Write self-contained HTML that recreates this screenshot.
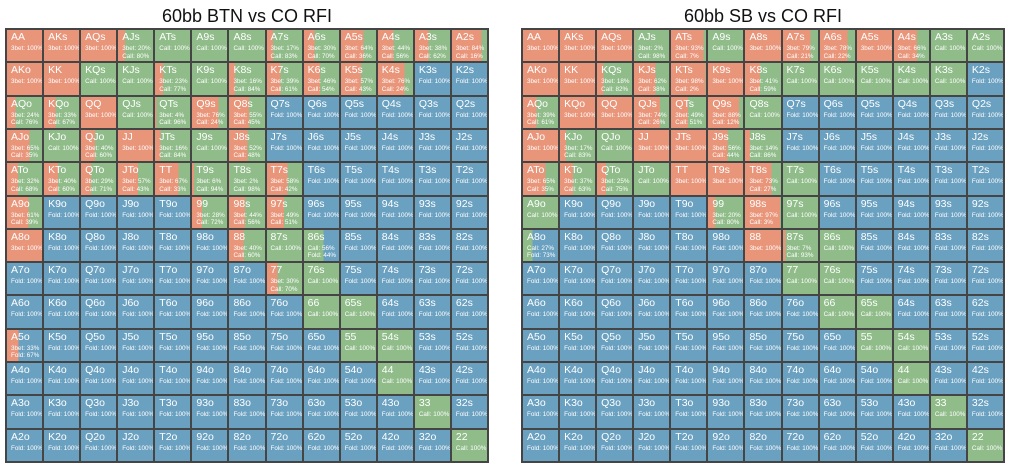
<!DOCTYPE html>
<html><head><meta charset="utf-8"><style>
body{margin:0;width:1011px;height:470px;background:#fff;position:relative;overflow:hidden;font-family:"Liberation Sans",sans-serif}
.t{position:absolute;top:6px;font-size:18px;color:#111;width:490px;text-align:center}
.g{position:absolute;top:28px;width:480px;height:431px;background:#454545;padding:2px;display:grid;grid-template-columns:repeat(13,1fr);grid-template-rows:repeat(13,1fr);gap:2px}
.g i{font-style:normal;display:block;color:#fff;font-size:6.3px;line-height:7.5px;padding:1px 0 0 4px;overflow:hidden;white-space:nowrap;
--r:0%;--c:0%;background:linear-gradient(90deg,#e9957a 0 var(--r),#8fbc89 var(--r) var(--c),#6aa0c0 var(--c))}
.g i b{display:block;font-weight:normal;font-size:10.5px;line-height:13px;margin-bottom:1px}
.g i.R{--r:100%;--c:100%}.g i.C{--c:100%}
</style></head><body>
<div class="t" style="left:2px">60bb BTN vs CO RFI</div>
<div class="t" style="left:518px">60bb SB vs CO RFI</div>
<div class="g" style="left:5px">
<i class="R"><b>AA</b>3bet: 100%</i><i class="R"><b>AKs</b>3bet: 100%</i><i class="R"><b>AQs</b>3bet: 100%</i><i style="--r:20%;--c:100%"><b>AJs</b>3bet: 20%<br>Call: 80%</i><i class="C"><b>ATs</b>Call: 100%</i><i class="C"><b>A9s</b>Call: 100%</i><i class="C"><b>A8s</b>Call: 100%</i><i style="--r:17%;--c:100%"><b>A7s</b>3bet: 17%<br>Call: 83%</i><i style="--r:30%;--c:100%"><b>A6s</b>3bet: 30%<br>Call: 70%</i><i style="--r:64%;--c:100%"><b>A5s</b>3bet: 64%<br>Call: 36%</i><i style="--r:44%;--c:100%"><b>A4s</b>3bet: 44%<br>Call: 56%</i><i style="--r:38%;--c:100%"><b>A3s</b>3bet: 38%<br>Call: 62%</i><i style="--r:84%;--c:100%"><b>A2s</b>3bet: 84%<br>Call: 16%</i>
<i class="R"><b>AKo</b>3bet: 100%</i><i class="R"><b>KK</b>3bet: 100%</i><i class="C"><b>KQs</b>Call: 100%</i><i class="C"><b>KJs</b>Call: 100%</i><i style="--r:23%;--c:100%"><b>KTs</b>3bet: 23%<br>Call: 77%</i><i class="C"><b>K9s</b>Call: 100%</i><i style="--r:16%;--c:100%"><b>K8s</b>3bet: 16%<br>Call: 84%</i><i style="--r:39%;--c:100%"><b>K7s</b>3bet: 39%<br>Call: 61%</i><i style="--r:46%;--c:100%"><b>K6s</b>3bet: 46%<br>Call: 54%</i><i style="--r:57%;--c:100%"><b>K5s</b>3bet: 57%<br>Call: 43%</i><i style="--r:76%;--c:100%"><b>K4s</b>3bet: 76%<br>Call: 24%</i><i><b>K3s</b>Fold: 100%</i><i><b>K2s</b>Fold: 100%</i>
<i style="--r:24%;--c:100%"><b>AQo</b>3bet: 24%<br>Call: 76%</i><i style="--r:33%;--c:100%"><b>KQo</b>3bet: 33%<br>Call: 67%</i><i class="R"><b>QQ</b>3bet: 100%</i><i class="C"><b>QJs</b>Call: 100%</i><i style="--r:4%;--c:100%"><b>QTs</b>3bet: 4%<br>Call: 96%</i><i style="--r:76%;--c:100%"><b>Q9s</b>3bet: 76%<br>Call: 24%</i><i style="--r:55%;--c:100%"><b>Q8s</b>3bet: 55%<br>Call: 45%</i><i><b>Q7s</b>Fold: 100%</i><i><b>Q6s</b>Fold: 100%</i><i><b>Q5s</b>Fold: 100%</i><i><b>Q4s</b>Fold: 100%</i><i><b>Q3s</b>Fold: 100%</i><i><b>Q2s</b>Fold: 100%</i>
<i style="--r:65%;--c:100%"><b>AJo</b>3bet: 65%<br>Call: 35%</i><i class="C"><b>KJo</b>Call: 100%</i><i style="--r:40%;--c:100%"><b>QJo</b>3bet: 40%<br>Call: 60%</i><i class="R"><b>JJ</b>3bet: 100%</i><i style="--r:16%;--c:100%"><b>JTs</b>3bet: 16%<br>Call: 84%</i><i class="C"><b>J9s</b>Call: 100%</i><i style="--r:52%;--c:100%"><b>J8s</b>3bet: 52%<br>Call: 48%</i><i><b>J7s</b>Fold: 100%</i><i><b>J6s</b>Fold: 100%</i><i><b>J5s</b>Fold: 100%</i><i><b>J4s</b>Fold: 100%</i><i><b>J3s</b>Fold: 100%</i><i><b>J2s</b>Fold: 100%</i>
<i style="--r:32%;--c:100%"><b>ATo</b>3bet: 32%<br>Call: 68%</i><i style="--r:40%;--c:100%"><b>KTo</b>3bet: 40%<br>Call: 60%</i><i style="--r:29%;--c:100%"><b>QTo</b>3bet: 29%<br>Call: 71%</i><i style="--r:57%;--c:100%"><b>JTo</b>3bet: 57%<br>Call: 43%</i><i style="--r:67%;--c:100%"><b>TT</b>3bet: 67%<br>Call: 33%</i><i style="--r:6%;--c:100%"><b>T9s</b>3bet: 6%<br>Call: 94%</i><i style="--r:2%;--c:100%"><b>T8s</b>3bet: 2%<br>Call: 98%</i><i style="--r:58%;--c:100%"><b>T7s</b>3bet: 58%<br>Call: 42%</i><i><b>T6s</b>Fold: 100%</i><i><b>T5s</b>Fold: 100%</i><i><b>T4s</b>Fold: 100%</i><i><b>T3s</b>Fold: 100%</i><i><b>T2s</b>Fold: 100%</i>
<i style="--r:61%;--c:100%"><b>A9o</b>3bet: 61%<br>Call: 39%</i><i><b>K9o</b>Fold: 100%</i><i><b>Q9o</b>Fold: 100%</i><i><b>J9o</b>Fold: 100%</i><i><b>T9o</b>Fold: 100%</i><i style="--r:28%;--c:100%"><b>99</b>3bet: 28%<br>Call: 72%</i><i style="--r:44%;--c:100%"><b>98s</b>3bet: 44%<br>Call: 56%</i><i style="--r:49%;--c:100%"><b>97s</b>3bet: 49%<br>Call: 51%</i><i><b>96s</b>Fold: 100%</i><i><b>95s</b>Fold: 100%</i><i><b>94s</b>Fold: 100%</i><i><b>93s</b>Fold: 100%</i><i><b>92s</b>Fold: 100%</i>
<i class="R"><b>A8o</b>3bet: 100%</i><i><b>K8o</b>Fold: 100%</i><i><b>Q8o</b>Fold: 100%</i><i><b>J8o</b>Fold: 100%</i><i><b>T8o</b>Fold: 100%</i><i><b>98o</b>Fold: 100%</i><i style="--r:40%;--c:100%"><b>88</b>3bet: 40%<br>Call: 60%</i><i class="C"><b>87s</b>Call: 100%</i><i style="--c:56%"><b>86s</b>Call: 56%<br>Fold: 44%</i><i><b>85s</b>Fold: 100%</i><i><b>84s</b>Fold: 100%</i><i><b>83s</b>Fold: 100%</i><i><b>82s</b>Fold: 100%</i>
<i><b>A7o</b>Fold: 100%</i><i><b>K7o</b>Fold: 100%</i><i><b>Q7o</b>Fold: 100%</i><i><b>J7o</b>Fold: 100%</i><i><b>T7o</b>Fold: 100%</i><i><b>97o</b>Fold: 100%</i><i><b>87o</b>Fold: 100%</i><i style="--r:30%;--c:100%"><b>77</b>3bet: 30%<br>Call: 70%</i><i class="C"><b>76s</b>Call: 100%</i><i><b>75s</b>Fold: 100%</i><i><b>74s</b>Fold: 100%</i><i><b>73s</b>Fold: 100%</i><i><b>72s</b>Fold: 100%</i>
<i><b>A6o</b>Fold: 100%</i><i><b>K6o</b>Fold: 100%</i><i><b>Q6o</b>Fold: 100%</i><i><b>J6o</b>Fold: 100%</i><i><b>T6o</b>Fold: 100%</i><i><b>96o</b>Fold: 100%</i><i><b>86o</b>Fold: 100%</i><i><b>76o</b>Fold: 100%</i><i class="C"><b>66</b>Call: 100%</i><i class="C"><b>65s</b>Call: 100%</i><i><b>64s</b>Fold: 100%</i><i><b>63s</b>Fold: 100%</i><i><b>62s</b>Fold: 100%</i>
<i style="--r:33%;--c:33%"><b>A5o</b>3bet: 33%<br>Fold: 67%</i><i><b>K5o</b>Fold: 100%</i><i><b>Q5o</b>Fold: 100%</i><i><b>J5o</b>Fold: 100%</i><i><b>T5o</b>Fold: 100%</i><i><b>95o</b>Fold: 100%</i><i><b>85o</b>Fold: 100%</i><i><b>75o</b>Fold: 100%</i><i><b>65o</b>Fold: 100%</i><i class="C"><b>55</b>Call: 100%</i><i class="C"><b>54s</b>Call: 100%</i><i><b>53s</b>Fold: 100%</i><i><b>52s</b>Fold: 100%</i>
<i><b>A4o</b>Fold: 100%</i><i><b>K4o</b>Fold: 100%</i><i><b>Q4o</b>Fold: 100%</i><i><b>J4o</b>Fold: 100%</i><i><b>T4o</b>Fold: 100%</i><i><b>94o</b>Fold: 100%</i><i><b>84o</b>Fold: 100%</i><i><b>74o</b>Fold: 100%</i><i><b>64o</b>Fold: 100%</i><i><b>54o</b>Fold: 100%</i><i class="C"><b>44</b>Call: 100%</i><i><b>43s</b>Fold: 100%</i><i><b>42s</b>Fold: 100%</i>
<i><b>A3o</b>Fold: 100%</i><i><b>K3o</b>Fold: 100%</i><i><b>Q3o</b>Fold: 100%</i><i><b>J3o</b>Fold: 100%</i><i><b>T3o</b>Fold: 100%</i><i><b>93o</b>Fold: 100%</i><i><b>83o</b>Fold: 100%</i><i><b>73o</b>Fold: 100%</i><i><b>63o</b>Fold: 100%</i><i><b>53o</b>Fold: 100%</i><i><b>43o</b>Fold: 100%</i><i class="C"><b>33</b>Call: 100%</i><i><b>32s</b>Fold: 100%</i>
<i><b>A2o</b>Fold: 100%</i><i><b>K2o</b>Fold: 100%</i><i><b>Q2o</b>Fold: 100%</i><i><b>J2o</b>Fold: 100%</i><i><b>T2o</b>Fold: 100%</i><i><b>92o</b>Fold: 100%</i><i><b>82o</b>Fold: 100%</i><i><b>72o</b>Fold: 100%</i><i><b>62o</b>Fold: 100%</i><i><b>52o</b>Fold: 100%</i><i><b>42o</b>Fold: 100%</i><i><b>32o</b>Fold: 100%</i><i class="C"><b>22</b>Call: 100%</i>
</div>
<div class="g" style="left:521px">
<i class="R"><b>AA</b>3bet: 100%</i><i class="R"><b>AKs</b>3bet: 100%</i><i class="R"><b>AQs</b>3bet: 100%</i><i style="--r:2%;--c:100%"><b>AJs</b>3bet: 2%<br>Call: 98%</i><i style="--r:93%;--c:100%"><b>ATs</b>3bet: 93%<br>Call: 7%</i><i class="C"><b>A9s</b>Call: 100%</i><i class="R"><b>A8s</b>3bet: 100%</i><i style="--r:79%;--c:100%"><b>A7s</b>3bet: 79%<br>Call: 21%</i><i style="--r:78%;--c:100%"><b>A6s</b>3bet: 78%<br>Call: 22%</i><i class="R"><b>A5s</b>3bet: 100%</i><i style="--r:66%;--c:100%"><b>A4s</b>3bet: 66%<br>Call: 34%</i><i class="C"><b>A3s</b>Call: 100%</i><i class="C"><b>A2s</b>Call: 100%</i>
<i class="R"><b>AKo</b>3bet: 100%</i><i class="R"><b>KK</b>3bet: 100%</i><i style="--r:18%;--c:100%"><b>KQs</b>3bet: 18%<br>Call: 82%</i><i style="--r:62%;--c:100%"><b>KJs</b>3bet: 62%<br>Call: 38%</i><i style="--r:98%;--c:100%"><b>KTs</b>3bet: 98%<br>Call: 2%</i><i class="R"><b>K9s</b>3bet: 100%</i><i style="--r:41%;--c:100%"><b>K8s</b>3bet: 41%<br>Call: 59%</i><i class="C"><b>K7s</b>Call: 100%</i><i class="C"><b>K6s</b>Call: 100%</i><i class="C"><b>K5s</b>Call: 100%</i><i class="C"><b>K4s</b>Call: 100%</i><i class="C"><b>K3s</b>Call: 100%</i><i><b>K2s</b>Fold: 100%</i>
<i style="--r:39%;--c:100%"><b>AQo</b>3bet: 39%<br>Call: 61%</i><i class="R"><b>KQo</b>3bet: 100%</i><i class="R"><b>QQ</b>3bet: 100%</i><i style="--r:74%;--c:100%"><b>QJs</b>3bet: 74%<br>Call: 26%</i><i style="--r:49%;--c:100%"><b>QTs</b>3bet: 49%<br>Call: 51%</i><i style="--r:88%;--c:100%"><b>Q9s</b>3bet: 88%<br>Call: 12%</i><i class="C"><b>Q8s</b>Call: 100%</i><i><b>Q7s</b>Fold: 100%</i><i><b>Q6s</b>Fold: 100%</i><i><b>Q5s</b>Fold: 100%</i><i><b>Q4s</b>Fold: 100%</i><i><b>Q3s</b>Fold: 100%</i><i><b>Q2s</b>Fold: 100%</i>
<i class="R"><b>AJo</b>3bet: 100%</i><i style="--r:17%;--c:100%"><b>KJo</b>3bet: 17%<br>Call: 83%</i><i class="C"><b>QJo</b>Call: 100%</i><i class="R"><b>JJ</b>3bet: 100%</i><i class="R"><b>JTs</b>3bet: 100%</i><i style="--r:56%;--c:100%"><b>J9s</b>3bet: 56%<br>Call: 44%</i><i style="--r:14%;--c:100%"><b>J8s</b>3bet: 14%<br>Call: 86%</i><i><b>J7s</b>Fold: 100%</i><i><b>J6s</b>Fold: 100%</i><i><b>J5s</b>Fold: 100%</i><i><b>J4s</b>Fold: 100%</i><i><b>J3s</b>Fold: 100%</i><i><b>J2s</b>Fold: 100%</i>
<i style="--r:65%;--c:100%"><b>ATo</b>3bet: 65%<br>Call: 35%</i><i style="--r:37%;--c:100%"><b>KTo</b>3bet: 37%<br>Call: 63%</i><i style="--r:25%;--c:100%"><b>QTo</b>3bet: 25%<br>Call: 75%</i><i class="C"><b>JTo</b>Call: 100%</i><i class="R"><b>TT</b>3bet: 100%</i><i class="R"><b>T9s</b>3bet: 100%</i><i style="--r:73%;--c:100%"><b>T8s</b>3bet: 73%<br>Call: 27%</i><i class="C"><b>T7s</b>Call: 100%</i><i><b>T6s</b>Fold: 100%</i><i><b>T5s</b>Fold: 100%</i><i><b>T4s</b>Fold: 100%</i><i><b>T3s</b>Fold: 100%</i><i><b>T2s</b>Fold: 100%</i>
<i class="C"><b>A9o</b>Call: 100%</i><i><b>K9o</b>Fold: 100%</i><i><b>Q9o</b>Fold: 100%</i><i><b>J9o</b>Fold: 100%</i><i><b>T9o</b>Fold: 100%</i><i style="--r:20%;--c:100%"><b>99</b>3bet: 20%<br>Call: 80%</i><i style="--r:97%;--c:100%"><b>98s</b>3bet: 97%<br>Call: 3%</i><i class="C"><b>97s</b>Call: 100%</i><i><b>96s</b>Fold: 100%</i><i><b>95s</b>Fold: 100%</i><i><b>94s</b>Fold: 100%</i><i><b>93s</b>Fold: 100%</i><i><b>92s</b>Fold: 100%</i>
<i style="--c:27%"><b>A8o</b>Call: 27%<br>Fold: 73%</i><i><b>K8o</b>Fold: 100%</i><i><b>Q8o</b>Fold: 100%</i><i><b>J8o</b>Fold: 100%</i><i><b>T8o</b>Fold: 100%</i><i><b>98o</b>Fold: 100%</i><i class="R"><b>88</b>3bet: 100%</i><i style="--r:7%;--c:100%"><b>87s</b>3bet: 7%<br>Call: 93%</i><i class="C"><b>86s</b>Call: 100%</i><i><b>85s</b>Fold: 100%</i><i><b>84s</b>Fold: 100%</i><i><b>83s</b>Fold: 100%</i><i><b>82s</b>Fold: 100%</i>
<i><b>A7o</b>Fold: 100%</i><i><b>K7o</b>Fold: 100%</i><i><b>Q7o</b>Fold: 100%</i><i><b>J7o</b>Fold: 100%</i><i><b>T7o</b>Fold: 100%</i><i><b>97o</b>Fold: 100%</i><i><b>87o</b>Fold: 100%</i><i class="C"><b>77</b>Call: 100%</i><i class="C"><b>76s</b>Call: 100%</i><i><b>75s</b>Fold: 100%</i><i><b>74s</b>Fold: 100%</i><i><b>73s</b>Fold: 100%</i><i><b>72s</b>Fold: 100%</i>
<i><b>A6o</b>Fold: 100%</i><i><b>K6o</b>Fold: 100%</i><i><b>Q6o</b>Fold: 100%</i><i><b>J6o</b>Fold: 100%</i><i><b>T6o</b>Fold: 100%</i><i><b>96o</b>Fold: 100%</i><i><b>86o</b>Fold: 100%</i><i><b>76o</b>Fold: 100%</i><i class="C"><b>66</b>Call: 100%</i><i class="C"><b>65s</b>Call: 100%</i><i><b>64s</b>Fold: 100%</i><i><b>63s</b>Fold: 100%</i><i><b>62s</b>Fold: 100%</i>
<i><b>A5o</b>Fold: 100%</i><i><b>K5o</b>Fold: 100%</i><i><b>Q5o</b>Fold: 100%</i><i><b>J5o</b>Fold: 100%</i><i><b>T5o</b>Fold: 100%</i><i><b>95o</b>Fold: 100%</i><i><b>85o</b>Fold: 100%</i><i><b>75o</b>Fold: 100%</i><i><b>65o</b>Fold: 100%</i><i class="C"><b>55</b>Call: 100%</i><i class="C"><b>54s</b>Call: 100%</i><i><b>53s</b>Fold: 100%</i><i><b>52s</b>Fold: 100%</i>
<i><b>A4o</b>Fold: 100%</i><i><b>K4o</b>Fold: 100%</i><i><b>Q4o</b>Fold: 100%</i><i><b>J4o</b>Fold: 100%</i><i><b>T4o</b>Fold: 100%</i><i><b>94o</b>Fold: 100%</i><i><b>84o</b>Fold: 100%</i><i><b>74o</b>Fold: 100%</i><i><b>64o</b>Fold: 100%</i><i><b>54o</b>Fold: 100%</i><i class="C"><b>44</b>Call: 100%</i><i><b>43s</b>Fold: 100%</i><i><b>42s</b>Fold: 100%</i>
<i><b>A3o</b>Fold: 100%</i><i><b>K3o</b>Fold: 100%</i><i><b>Q3o</b>Fold: 100%</i><i><b>J3o</b>Fold: 100%</i><i><b>T3o</b>Fold: 100%</i><i><b>93o</b>Fold: 100%</i><i><b>83o</b>Fold: 100%</i><i><b>73o</b>Fold: 100%</i><i><b>63o</b>Fold: 100%</i><i><b>53o</b>Fold: 100%</i><i><b>43o</b>Fold: 100%</i><i class="C"><b>33</b>Call: 100%</i><i><b>32s</b>Fold: 100%</i>
<i><b>A2o</b>Fold: 100%</i><i><b>K2o</b>Fold: 100%</i><i><b>Q2o</b>Fold: 100%</i><i><b>J2o</b>Fold: 100%</i><i><b>T2o</b>Fold: 100%</i><i><b>92o</b>Fold: 100%</i><i><b>82o</b>Fold: 100%</i><i><b>72o</b>Fold: 100%</i><i><b>62o</b>Fold: 100%</i><i><b>52o</b>Fold: 100%</i><i><b>42o</b>Fold: 100%</i><i><b>32o</b>Fold: 100%</i><i class="C"><b>22</b>Call: 100%</i>
</div>
</body></html>
